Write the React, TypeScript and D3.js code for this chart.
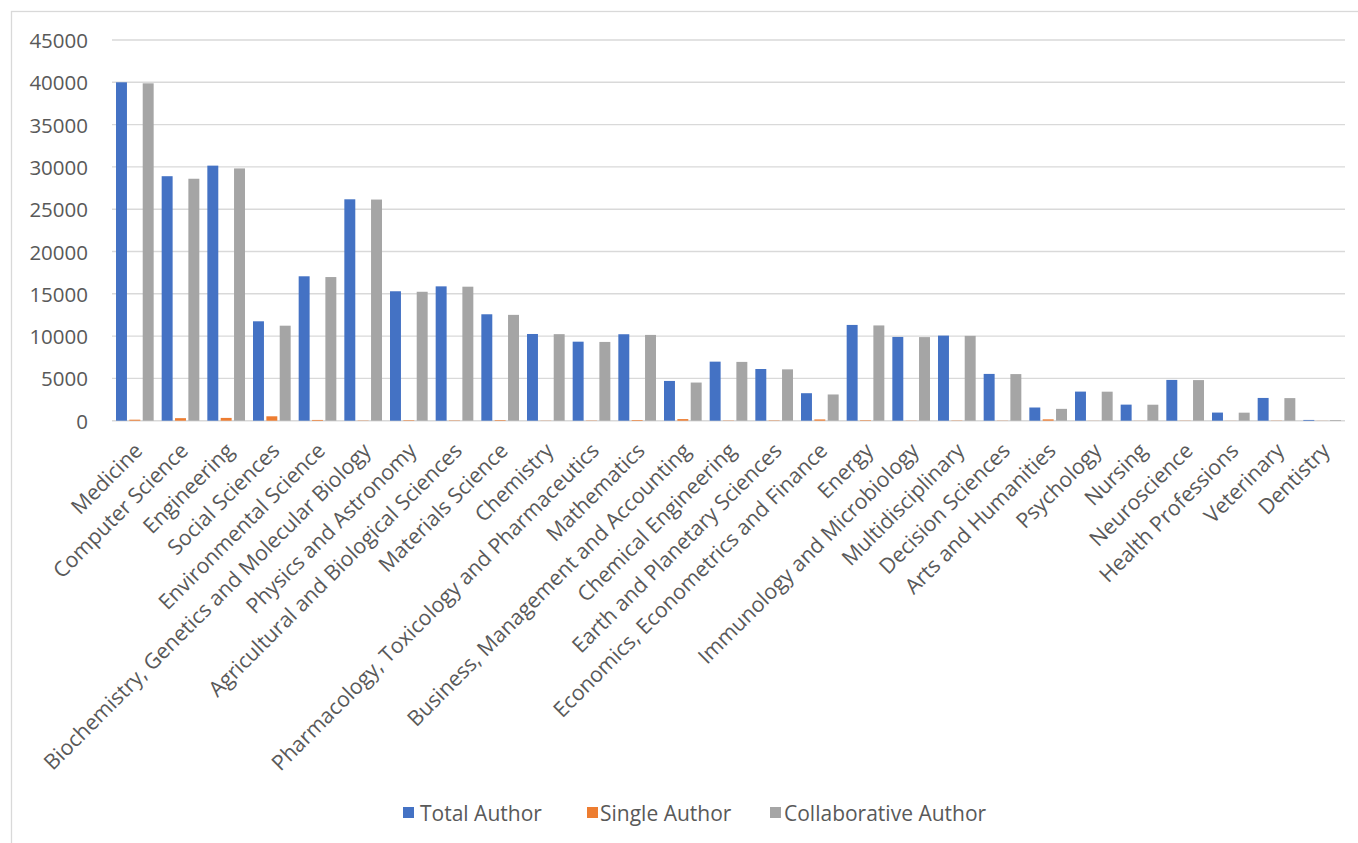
import React from "react";
import * as d3 from "d3";

// Subject areas, in plotting order
const categories: string[] = [
  "Medicine",
  "Computer Science",
  "Engineering",
  "Social Sciences",
  "Environmental Science",
  "Biochemistry, Genetics and Molecular Biology",
  "Physics and Astronomy",
  "Agricultural and Biological Sciences",
  "Materials Science",
  "Chemistry",
  "Pharmacology, Toxicology and Pharmaceutics",
  "Mathematics",
  "Business, Management and Accounting",
  "Chemical Engineering",
  "Earth and Planetary Sciences",
  "Economics, Econometrics and Finance",
  "Energy",
  "Immunology and Microbiology",
  "Multidisciplinary",
  "Decision Sciences",
  "Arts and Humanities",
  "Psychology",
  "Nursing",
  "Neuroscience",
  "Health Professions",
  "Veterinary",
  "Dentistry",
];

const totalAuthor: number[] = [
  40000, 28900, 30150, 11750, 17070, 26170, 15300, 15880, 12580, 10250, 9340,
  10220, 4700, 6980, 6110, 3250, 11320, 9900, 10060, 5530, 1560, 3440, 1900,
  4820, 960, 2690, 90,
];

const singleAuthor: number[] = [
  120, 300, 330, 520, 90, 30, 60, 40, 70, 20, 30, 80, 190, 30, 40, 150, 60, 20,
  30, 20, 160, 10, 10, 20, 10, 20, 10,
];

const collaborativeAuthor: number[] = [
  39880, 28600, 29820, 11230, 16980, 26140, 15240, 15840, 12510, 10230, 9310,
  10140, 4510, 6950, 6070, 3100, 11260, 9880, 10030, 5510, 1400, 3430, 1890,
  4800, 950, 2670, 80,
];

const seriesNames: string[] = ["Total Author", "Single Author", "Collaborative Author"];
const seriesColors: string[] = ["#4472C4", "#ED7D31", "#A5A5A5"];
const yTicks: number[] = [0, 5000, 10000, 15000, 20000, 25000, 30000, 35000, 40000, 45000];

const W = 1358;
const H = 843;
const FONT = "'Open Sans', 'Noto Sans', sans-serif";
const TEXT = "#595959";
const GRID = "#D9D9D9";

export default function App() {
  const plot = { left: 112, right: 1345, top: 40, bottom: 420.7 };

  const x0 = d3
    .scaleBand<string>()
    .domain(categories)
    .range([plot.left, plot.right])
    .paddingInner(0.1228)
    .paddingOuter(0.0614);

  const x1 = d3
    .scaleBand<string>()
    .domain(seriesNames)
    .range([0, x0.bandwidth()]);

  const y = d3.scaleLinear().domain([0, 45000]).range([plot.bottom, plot.top]);

  const seriesValues = [totalAuthor, singleAuthor, collaborativeAuthor];
  const inset = 1.2;

  const legendItems = [
    { name: seriesNames[0], color: seriesColors[0], sx: 403, tx: 420 },
    { name: seriesNames[1], color: seriesColors[1], sx: 587, tx: 600 },
    { name: seriesNames[2], color: seriesColors[2], sx: 770, tx: 784 },
  ];

  return (
    <svg
      width={W}
      height={H}
      style={{ position: "absolute", left: 0, top: 0, background: "#fff" }}
      fontFamily={FONT}
    >
      <rect x={0} y={0} width={W} height={H} fill="#fff" />
      <rect x={11.5} y={11.5} width={W + 40} height={H + 40} fill="none" stroke={GRID} strokeWidth={1.3} />

      {/* gridlines */}
      {yTicks.map((t) => (
        <line
          key={"g" + t}
          x1={plot.left}
          x2={plot.right}
          y1={y(t)}
          y2={y(t)}
          stroke={GRID}
          strokeWidth={1.4}
        />
      ))}

      {/* y tick labels */}
      {yTicks.map((t) => (
        <text
          key={"t" + t}
          x={88}
          y={y(t)}
          textAnchor="end"
          dominantBaseline="central"
          fontSize={20.5}
          fill={TEXT}
        >
          {t}
        </text>
      ))}

      {/* bars */}
      {categories.map((c, i) => (
        <g key={c} transform={`translate(${x0(c)},0)`}>
          {seriesNames.map((s, k) => {
            const v = seriesValues[k][i];
            return (
              <rect
                key={s}
                x={(x1(s) as number) + inset}
                width={x1.bandwidth() - 2 * inset}
                y={y(v)}
                height={y(0) - y(v)}
                fill={seriesColors[k]}
              />
            );
          })}
        </g>
      ))}

      {/* category labels */}
      {categories.map((c) => {
        const cx = (x0(c) as number) + x0.bandwidth() / 2;
        return (
          <text
            key={"l" + c}
            transform={`translate(${cx + 9},${452}) rotate(-45)`}
            textAnchor="end"
            fontSize={21.3}
            fill={TEXT}
          >
            {c}
          </text>
        );
      })}

      {/* legend */}
      {legendItems.map((l) => (
        <g key={l.name}>
          <rect x={l.sx} y={807} width={11} height={11} fill={l.color} />
          <text x={l.tx} y={813} dominantBaseline="central" fontSize={21} fill={TEXT}>
            {l.name}
          </text>
        </g>
      ))}
    </svg>
  );
}
